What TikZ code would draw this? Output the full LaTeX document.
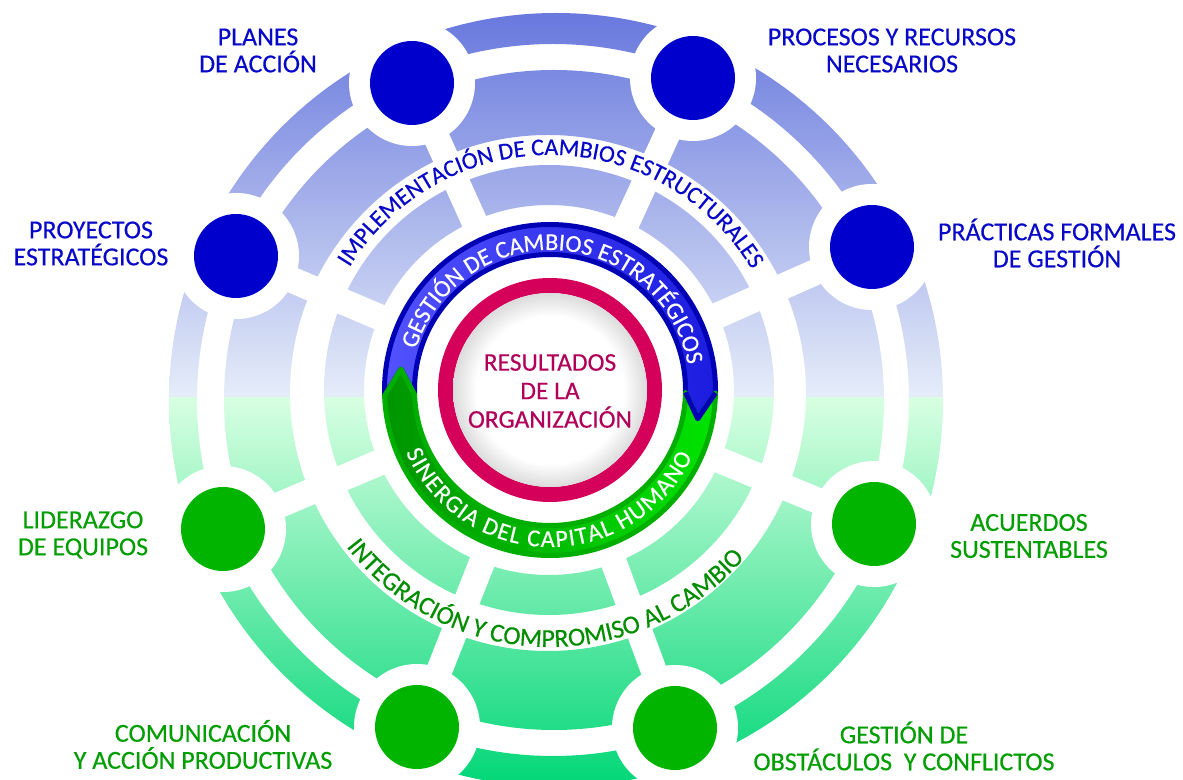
\documentclass[tikz,border=0pt]{standalone}
\usepackage{fontspec}
\setmainfont[FakeBold=0.35]{Carlito}
\usetikzlibrary{decorations.text}

\definecolor{dotblue}{HTML}{0000CC}
\definecolor{lblblue}{HTML}{0808C8}
\definecolor{dotgreen}{HTML}{00B400}
\definecolor{lblgreen}{HTML}{009E00}
\definecolor{arcgreen}{HTML}{008E00}
\definecolor{pinkring}{HTML}{D4005A}
\definecolor{pinktext}{HTML}{B0005A}
\definecolor{bandtop}{HTML}{6474DC}
\definecolor{bandmidb}{HTML}{B7C8EE}
\definecolor{bandlowb}{HTML}{E6EDF9}
\definecolor{bandhig}{HTML}{D8FFE2}
\definecolor{bandmidg}{HTML}{98F8B4}
\definecolor{bandbot}{HTML}{00D676}
\definecolor{ringblueA}{HTML}{5252FF}
\definecolor{ringblueB}{HTML}{1C1CE0}
\definecolor{ringblueE}{HTML}{0000B4}
\definecolor{ringgreenA}{HTML}{009400}
\definecolor{ringgreenB}{HTML}{00E400}
\definecolor{ringgreenE}{HTML}{00AE00}

\pgfdeclareradialshading{innershade}{\pgfpointorigin}{color(0bp)=(white); color(19bp)=(white); color(25bp)=(black!14); color(50bp)=(black!14)}

\begin{document}
\begin{tikzpicture}[x=1pt,y=1pt,
  dot/.style={circle, inner sep=0pt, minimum size=84pt},
  bluedot/.style={dot, fill=dotblue},
  greendot/.style={dot, fill=dotgreen},
  lbl/.style={align=center, font=\fontsize{26}{27}\selectfont, inner sep=0pt},
  spoke/.style={white, line width=26pt},
  halo/.style={fill=white}]
\clip (0,0) rectangle (1183,779);
\fill[white] (0,0) rectangle (1183,779);
\coordinate (C) at (550,389);
% ring bands
\begin{scope}[even odd rule]
\clip (556,379) circle[radius=387pt] (553,379) circle[radius=356pt]
  (554,379) circle[radius=330pt] (548,386) circle[radius=258pt]
  (549,389) circle[radius=225pt] (549,389) circle[radius=185pt];
\shade[top color=bandtop, middle color=bandmidb, bottom color=bandlowb] (0,381) rectangle (1183,779);
\shade[top color=bandhig, middle color=bandmidg, bottom color=bandbot] (0,-10) rectangle (1183,381);
\end{scope}
% node positions
\coordinate (p1) at (412,696);
\coordinate (p2) at (693,701);
\coordinate (p3) at (872,532);
\coordinate (p4) at (874,255);
\coordinate (p5) at (675,51);
\coordinate (p6) at (417,52);
\coordinate (p7) at (223,250);
\coordinate (p8) at (236,523);
\foreach \p in {p1,p2,p3,p4,p5,p6,p7,p8} \draw[spoke] (C) -- (\p);
\foreach \p in {p1,p2,p3,p4,p5,p6,p7,p8} \fill[halo] (\p) circle[radius=63pt];
\node[bluedot] (n1) at (p1) {};
\node[bluedot] (n2) at (p2) {};
\node[bluedot] (n3) at (p3) {};
\node[greendot] (n4) at (p4) {};
\node[greendot] (n5) at (p5) {};
\node[greendot] (n6) at (p6) {};
\node[greendot] (n7) at (p7) {};
\node[bluedot] (n8) at (p8) {};
% core ring
\begin{scope}[shift={(C)}]
\shade[left color=ringblueA, right color=ringblueB, draw=ringblueE, line width=5pt, line join=round]
  (182:165.5pt) arc[start angle=182, end angle=-1, radius=165.5pt] -- (-11:150.5pt) -- (-1:135.5pt)
  arc[start angle=-1, end angle=182, radius=135.5pt] -- (172:150.5pt) -- cycle;
\shade[left color=ringgreenA, right color=ringgreenB, draw=ringgreenE, line width=5pt, line join=round]
  (359:165.5pt) arc[start angle=359, end angle=182, radius=165.5pt] -- (172:150.5pt) -- (182:135.5pt)
  arc[start angle=182, end angle=359, radius=135.5pt] -- (349:150.5pt) -- cycle;
\draw[ringblueE, line width=5pt, line join=round] (-1:165.5pt) -- (-11:150.5pt) -- (-1:135.5pt);
\end{scope}
\draw[pinkring, line width=15pt] (C) circle[radius=104.5pt];
\shade[shading=innershade] (C) circle[radius=97pt];
\node[text=pinktext, align=center, font=\fontsize{25.5}{28.5}\selectfont, inner sep=0pt] (res) at (550,388) {RESULTADOS\\DE LA\\ORGANIZACIÓN};
% arc texts
\path[decorate, decoration={text along path, text align=center, text color=white,
  text={|\fontsize{24.3}{28}\selectfont|GESTIÓN DE CAMBIOS ESTRATÉGICOS}}]
  (C) ++(174.75:140pt) arc[start angle=174.75, end angle=-1.25, radius=140pt];
\path[decorate, decoration={text along path, text align=fit to path, text color=white,
  text={|\fontsize{24.3}{28}\selectfont|SINERGIA DEL CAPITAL HUMANO}}]
  (C) ++(203.4:157pt) arc[start angle=203.4, end angle=335, radius=157pt];
\path[decorate, decoration={text along path, text align=center, text color=lblblue,
  text={|\fontsize{24}{28}\selectfont|IMPLEMENTACIÓN DE CAMBIOS ESTRUCTURALES}}]
  (C) ++(169.7:235pt) arc[start angle=169.7, end angle=9.7, radius=235pt];
\path[decorate, decoration={text along path, text align=center, text color=arcgreen,
  text={|\fontsize{26}{28}\selectfont|INTEGRACIÓN Y COMPROMISO AL CAMBIO}}]
  (C) ++(188.4:257pt) arc[start angle=188.4, end angle=348.4, radius=257pt];
% labels
\node[lbl, text=lblblue] (l1) at (258,728.5) {PLANES\\DE ACCIÓN};
\node[lbl, text=lblblue] (l2) at (892,728.5) {PROCESOS Y RECURSOS\\NECESARIOS};
\node[lbl, text=lblblue] (l3) at (1057,536) {PRÁCTICAS FORMALES\\DE GESTIÓN};
\node[lbl, text=lblgreen] (l4) at (1029,243) {ACUERDOS\\SUSTENTABLES};
\node[lbl, text=lblgreen] (l5) at (904,33) {GESTIÓN DE\\OBSTÁCULOS\ \ Y CONFLICTOS};
\node[lbl, text=lblgreen] (l6) at (203,34.5) {COMUNICACIÓN\\Y ACCIÓN PRODUCTIVAS};
\node[lbl, text=lblgreen] (l7) at (83,244) {LIDERAZGO\\DE EQUIPOS};
\node[lbl, text=lblblue] (l8) at (91,535.5) {PROYECTOS\\ESTRATÉGICOS};
\end{tikzpicture}
\end{document}
